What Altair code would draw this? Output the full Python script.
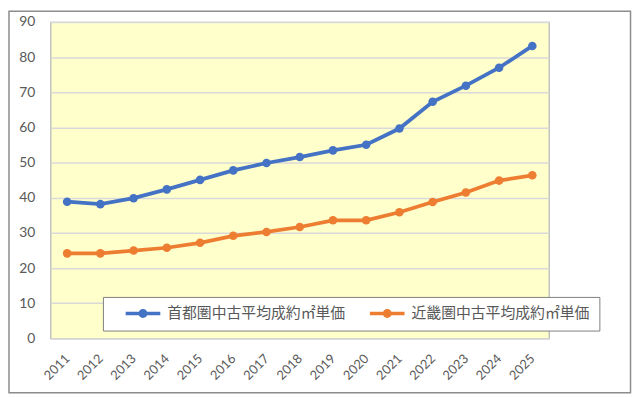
import altair as alt
import pandas as pd

years = [str(y) for y in range(2011, 2026)]
series_names = ["首都圏中古平均成約㎡単価", "近畿圏中古平均成約㎡単価"]
shutoken = [38.9, 38.2, 39.9, 42.4, 45.1, 47.8, 49.9, 51.6, 53.5, 55.1, 59.7, 67.3, 71.9, 77.0, 83.2]
kinki = [24.2, 24.2, 25.0, 25.8, 27.2, 29.2, 30.3, 31.7, 33.6, 33.6, 35.9, 38.8, 41.5, 44.9, 46.4]
y_ticks = [0, 10, 20, 30, 40, 50, 60, 70, 80, 90]
colors = ["#4472C4", "#ED7D31"]

rows = []
for i, y in enumerate(years):
    rows.append({"year": y, "series": series_names[0], "value": shutoken[i]})
    rows.append({"year": y, "series": series_names[1], "value": kinki[i]})
df = pd.DataFrame(rows)

W, H = 504, 320

x_enc = alt.X("year:O", scale=alt.Scale(type="point", padding=0.5),
              axis=alt.Axis(title=None, labelAngle=-45, labelAlign="right", labelBaseline="middle",
                            labelPadding=18, labelFontSize=13, labelColor="#595959", labelFont="Lato",
                            domain=False, ticks=False, grid=False))
y_enc = alt.Y("value:Q", scale=alt.Scale(domain=[0, 90], nice=False),
              axis=alt.Axis(title=None, values=y_ticks, labelFontSize=14, labelColor="#595959",
                            labelFont="Lato", labelPadding=16, domain=False, ticks=False,
                            grid=True, gridColor="#D9D9D9", gridWidth=1.5))
color_scale = alt.Scale(domain=series_names, range=colors)

sym_path = ("M-3.5,-0.36 L-0.8,-0.36 L-0.8,0.36 L-3.5,0.36 Z "
            "M0.8,-0.36 L3.5,-0.36 L3.5,0.36 L0.8,0.36 Z "
            "M0.9,0 A0.9,0.9 0 1,1 -0.9,0 A0.9,0.9 0 1,1 0.9,0 Z")

legend = alt.Legend(title=None, orient="none", legendX=53, legendY=278,
                    direction="horizontal", fillColor="white",
                    strokeColor="#7F7F7F", padding=9,
                    symbolType=sym_path, symbolSize=100, symbolStrokeWidth=0,
                    symbolOffset=24,
                    labelFont="Noto Sans CJK JP", labelFontSize=15, labelLimit=400,
                    labelColor="#595959", labelOffset=17, columnPadding=10)

base = alt.Chart(df)
lines = base.mark_line(strokeWidth=3.8).encode(
    x=x_enc, y=y_enc,
    color=alt.Color("series:N", scale=color_scale, legend=legend),
)
points = base.mark_point(filled=True, size=75, opacity=1).encode(
    x=x_enc, y=y_enc,
    color=alt.Color("series:N", scale=color_scale, legend=legend),
)

frame = alt.Chart(alt.Data(values=[{}])).mark_rect(fill=None, stroke="#8C8C8C", strokeWidth=1.5).encode(
    x=alt.value(-42), x2=alt.value(586.5), y=alt.value(-11), y2=alt.value(375)
)

chart = alt.layer(frame, lines, points).properties(
    width=W, height=H,
    autosize=alt.AutoSizeParams(type="none"),
    padding={"left": 43, "top": 12, "right": 84, "bottom": 56},
    background="white",
).configure_view(fill="#FFFFCC", stroke="#B4B4B4", strokeWidth=1.2)

chart.save("out.html", embed_options={"renderer": "svg", "actions": False})
